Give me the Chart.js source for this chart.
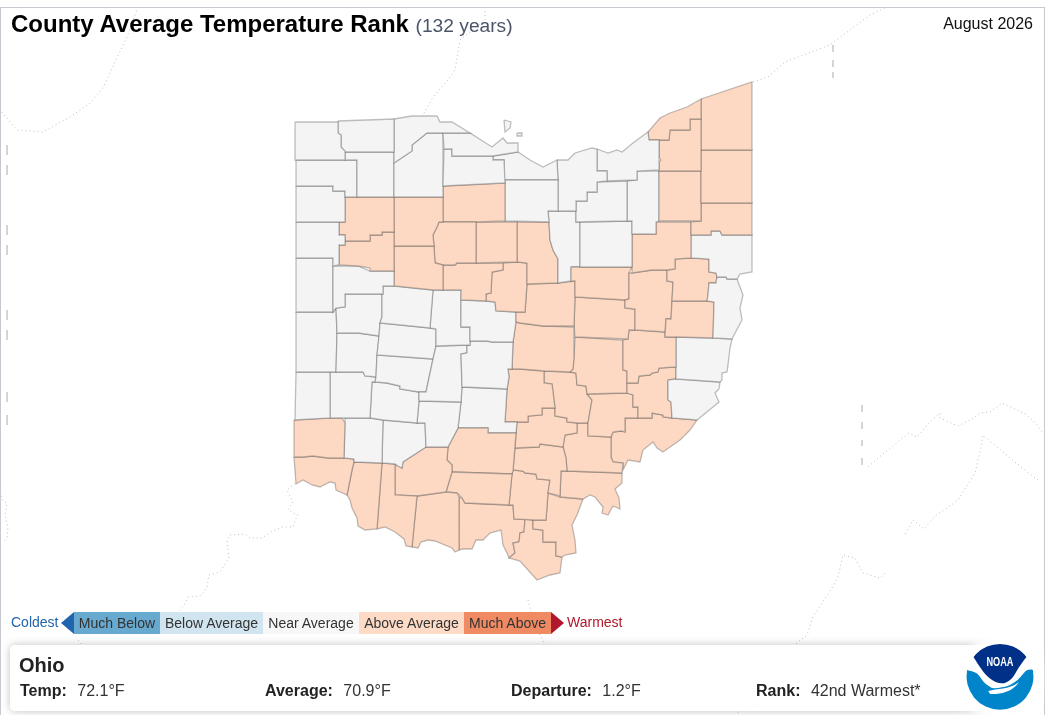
<!DOCTYPE html>
<html><head><meta charset="utf-8">
<script src="https://cdn.jsdelivr.net/npm/chart.js@4/dist/chart.umd.min.js"></script>
<style>
html,body{margin:0;padding:0;background:#fff;font-family:"Liberation Sans",Arial,sans-serif;color:#222}
#wrap{position:relative;width:1045px;height:715px;overflow:hidden}
#frame{position:absolute;left:0;top:7px;width:1043px;height:720px;border:1px solid #c8c8d0;box-sizing:content-box}
canvas{position:absolute;left:0;top:0}
.t{position:absolute;white-space:nowrap}
#title{left:11px;top:10px;font-size:24px;font-weight:bold;color:#000;line-height:28px}
#title span{font-weight:normal;font-size:19.2px;color:#4a5568}
#date{right:12px;top:15px;font-size:16px;color:#111}
.lg{position:absolute;top:612px;height:22px;line-height:22px;font-size:14px;text-align:center;color:#333}
#card{position:absolute;left:10px;top:645px;width:1008px;height:66px;background:rgba(255,255,255,.9);border-radius:5px;box-shadow:0 0 9px rgba(0,0,0,.25)}
.st{position:absolute;top:682px;font-size:16px;line-height:18px;color:#333;white-space:nowrap}
.st b{margin-right:6px;color:#222}
#logo{position:absolute;left:966px;top:644px;border-radius:50%;box-shadow:0 0 8px 9px #fff;background:#fff}
</style></head><body><div id="wrap">
<canvas id="c" width="1045" height="715"></canvas>
<div id="frame"></div>
<div class="t" id="title">County Average Temperature Rank <span>(132 years)</span></div>
<div class="t" id="date">August 2026</div>
<div class="t" style="left:11px;top:614px;font-size:14px;color:#2166ac">Coldest</div>
<div style="position:absolute;left:61px;top:612px;width:0;height:0;border-top:11px solid transparent;border-bottom:11px solid transparent;border-right:13px solid #2166ac"></div>
<div class="lg" style="left:74px;width:86px;background:#67a9cf">Much Below</div>
<div class="lg" style="left:160px;width:103px;background:#d1e5f0">Below Average</div>
<div class="lg" style="left:263px;width:96px;background:#f7f7f7">Near Average</div>
<div class="lg" style="left:359px;width:105px;background:#fddbc7">Above Average</div>
<div class="lg" style="left:464px;width:87px;background:#ef8a62">Much Above</div>
<div style="position:absolute;left:551px;top:612px;width:0;height:0;border-top:11px solid transparent;border-bottom:11px solid transparent;border-left:13px solid #b2182b"></div>
<div class="t" style="left:567px;top:614px;font-size:14px;color:#b2182b">Warmest</div>
<div id="card"></div>
<div class="t" style="left:19px;top:654px;font-size:20px;font-weight:bold;color:#222">Ohio</div>
<div class="st" style="left:20px"><b>Temp:</b> 72.1°F</div>
<div class="st" style="left:265px"><b>Average:</b> 70.9°F</div>
<div class="st" style="left:511px"><b>Departure:</b> 1.2°F</div>
<div class="st" style="left:756px"><b>Rank:</b> 42nd Warmest*</div>
<svg id="logo" width="68" height="68" viewBox="0 0 68 68">
<circle cx="34" cy="33.8" r="33.5" fill="#fff"/>
<path d="M7.3 12.7 A33.5 33.5 0 0 1 60.7 12.7 C58 16 55 20 52.3 24.3 C49 30 47 34 44 36 C41 38.5 38 39.5 35.7 39.3 C32 39 30 38 27.3 36.7 C23 34 20 31 17.3 27.7 C13 22 10 17 7.3 12.7Z" fill="#003087"/>
<path d="M1.1 26 C4 27 8 27.5 10.7 29.3 C14 32 16 36.5 19 39.3 C22 42 25 43.8 27.3 44.3 C30 44.5 33 44 35.7 43.3 C39 43 41.5 42 44 41 C47 39.5 50 37.5 52.3 35.3 C55 32.5 57 30 59 27.7 C61 26 64 25 66.9 26 A33.5 33.5 0 1 1 1.1 26Z" fill="#0085ca"/>
<path d="M22.3 47 C31 44.5 44 45.5 53 38 C47 47 36 50.5 24 50 Z" fill="#fff"/>
<text x="34" y="22" text-anchor="middle" font-family="Liberation Sans" font-weight="bold" font-size="12" fill="#fff" textLength="27" lengthAdjust="spacingAndGlyphs">NOAA</text>
</svg>
</div>
<script>
const countyNames=["Williams","Fulton","Lucas","Ottawa","Sandusky","Wood","Henry","Defiance","Paulding","Van Wert","Putnam","Allen","Auglaize","Hancock","Hardin","Wyandot","Seneca","Crawford","Huron","Erie","Lorain","Cuyahoga","Lake","Geauga","Ashtabula","Trumbull","Portage","Mahoning","Medina","Summit","Wayne","Stark","Columbiana","Jefferson","Carroll","Harrison","Tuscarawas","Holmes","Ashland","Richland","Marion","Morrow","Knox","Delaware","Logan","Union","Franklin","Madison","Champaign","Clark","Shelby","Miami","Mercer","Darke","Preble","Montgomery","Greene","Fayette","Butler","Warren","Clinton","Hamilton","Clermont","Brown","Highland","Adams","Pike","Ross","Pickaway","Licking","Coshocton","Guernsey","Belmont","Monroe","Noble","Muskingum","Morgan","Fairfield","Perry","Hocking","Vinton","Jackson","Athens","Washington","Meigs","Gallia","Lawrence","Scioto","Kelleys Island","Bass Islands"];
const countyRanks=["Near","Near","Near","Near","Near","Near","Near","Near","Near","Near","Above","Above","Near","Above","Above","Above","Above","Above","Near","Near","Near","Near","Above","Above","Above","Above","Above","Above","Near","Near","Near","Above","Near","Near","Above","Above","Above","Above","Near","Above","Above","Above","Above","Near","Near","Near","Near","Near","Near","Near","Near","Near","Near","Near","Near","Near","Near","Near","Above","Near","Near","Above","Above","Above","Above","Above","Above","Above","Near","Above","Above","Above","Near","Near","Above","Above","Above","Above","Above","Above","Above","Above","Above","Above","Above","Above","Above","Above","Near","Near"];
const countyShapes=[
[295,122,338,122,338,133,341,135,341,147,345,151,345,160,295,160],
[338,121,394,119,394,152,345,152,341,147,341,135,338,133],
[394,119,412,116,437,116,440,122,452,122,470,133,427,133,412,145,412,151,403,157,394,163],
[443,133,470,133,492,147,503,138,507,143,518,143,518,152,493,156,452,156,452,149,444,149],
[444,149,452,149,452,156,493,156,493,160,504,160,505,183,443,186],
[394,163,403,157,412,151,412,145,427,133,443,133,443,197,394,197],
[345,152,394,152,394,197,357,197,357,160,345,160],
[296,160,357,160,357,197,345,197,345,191,333,191,333,186,296,186],
[296,186,333,186,333,191,345,191,345,222,296,222],
[296,222,339,222,339,235,345,235,345,245,339,245,339,265,333,266,333,258,296,258],
[345,197,394,197,394,232,382,232,382,235,370,235,370,241,345,241,345,235,339,235,339,222,345,222],
[345,241,370,241,370,235,382,235,382,232,394,232,394,271,370,271,370,268,358,266,339,265,339,245,345,245],
[333,266,358,266,370,271,394,271,394,286,383,286,383,294,345,294,345,307,336,308,333,312],
[394,197,443,197,443,222,439,222,437,227,433,235,434,246,394,246],
[394,246,434,246,435,263,443,265,443,290,433,290,394,286],
[439,222,476,222,476,263,457,263,455,265,443,265,435,263,434,246,433,235,437,227],
[443,186,505,183,505,221,476,222,443,222],
[476,222,517,222,517,262,476,263],
[505,180,558,180,558,211,548,211,549,222,505,221],
[504,180,504,160,493,160,493,156,518,152,530,160,543,167,557,160,558,180],
[557,160,568,160,575,153,592,148,597,149,597,171,607,171,607,181,597,182,597,192,587,192,587,201,576,201,576,211,558,211,558,180],
[597,149,608,153,617,150,622,152,633,143,648,132,649,140,659,140,659,170,637,171,637,180,607,181,607,171,597,171],
[649,140,648,132,660,118,670,113,687,107,701,99,701,119,690,119,690,130,670,130,669,140],
[659,140,669,140,670,130,690,130,690,119,701,119,701,171,659,171,659,162,661,160,659,157],
[701,99,752,82,752,150,701,150],
[701,150,752,150,752,203,701,203],
[659,171,701,171,701,221,659,221],
[701,203,752,203,752,235,722,235,720,231,711,231,711,235,691,235,691,222,701,221],
[576,211,576,201,587,201,587,192,597,192,597,182,627,181,627,221,576,222],
[627,181,637,180,637,171,659,171,659,221,656,222,656,234,632,234,632,221,627,221],
[580,222,632,221,632,267,580,267],
[632,234,656,234,656,222,691,222,691,258,675,259,675,269,667,270,652,270,632,273],
[691,235,711,235,711,231,720,231,722,235,752,235,752,272,740,274,737,279,727,279,726,277,717,277,716,273,709,272,709,259,691,258],
[717,277,726,277,727,279,737,279,743,295,740,308,742,320,734,335,732,339,713,338,714,302,707,301,708,295,709,283,716,283],
[675,259,691,258,709,259,709,272,716,273,717,277,716,283,709,283,708,295,707,301,672,301,673,282,667,281,667,270,675,269],
[672,301,707,301,714,302,713,338,676,337,665,337,666,319,671,319],
[632,273,652,270,667,270,667,281,673,282,672,301,671,319,666,319,665,332,635,330,635,309,625,308,625,300,629,299,629,273],
[571,267,632,267,629,273,629,299,625,300,575,297,575,281,571,281],
[549,222,548,211,576,211,576,222,580,222,580,267,571,267,571,281,558,283,558,259,553,250,550,240],
[517,222,549,222,550,240,553,250,558,259,558,283,527,284,527,263,517,262],
[443,265,455,265,457,263,503,263,503,270,492,272,491,293,486,294,486,301,461,300,461,290,443,290],
[503,263,517,262,527,263,527,284,525,312,516,312,496,311,495,302,486,301,486,294,491,293,492,272,503,270],
[527,284,558,283,575,281,575,297,574,326,543,326,520,323,516,322,516,312,525,312],
[461,300,486,301,495,302,496,311,516,312,516,322,513,342,492,342,487,341,470,341,470,327,461,327],
[383,286,394,286,433,290,430,328,380,323,382,317,382,294,383,294],
[433,290,461,290,461,327,470,327,470,345,436,346,436,329,430,328],
[470,341,487,341,492,342,513,342,512,369,508,369,509,377,507,389,487,388,462,387,461,354,467,353,467,346,470,345],
[436,346,470,345,467,346,467,353,461,354,462,387,461,402,419,401,419,392,426,392,433,359],
[380,323,430,328,436,329,436,346,433,359,377,355,379,336],
[377,355,433,359,426,392,419,392,400,389,400,386,387,383,375,382,376,377],
[345,294,382,294,382,317,380,323,379,336,358,333,337,333,336,308,345,307],
[337,333,358,333,379,336,377,355,376,377,365,376,363,372,336,372],
[296,258,333,258,333,312,296,312],
[296,312,333,312,336,308,337,333,336,372,296,372],
[296,372,330,372,330,418,295,420],
[330,372,363,372,365,376,376,377,375,382,372,382,370,418,345,418,330,418],
[372,382,375,382,387,383,400,386,400,389,419,392,419,401,417,423,383,420,370,418],
[419,401,461,402,458,428,448,447,426,447,425,423,417,423],
[294,420,330,418,342,418,345,423,344,458,328,458,313,456,303,457,294,457],
[345,418,370,418,383,420,382,463,354,462,354,459,344,458,345,423],
[383,420,417,423,425,423,426,447,403,462,402,468,398,466,395,464,382,463],
[294,457,303,457,313,456,328,458,344,458,354,459,354,462,352,470,347,495,336,490,335,483,330,482,320,487,312,485,303,480,296,484],
[354,462,382,463,377,529,365,530,358,526,357,518,352,508,350,500,347,495,352,470],
[382,463,395,464,395,495,417,496,412,547,406,546,404,539,395,532,385,527,377,529],
[395,464,398,466,402,468,403,462,426,447,448,447,447,460,452,465,452,472,446,492,417,496,395,495],
[417,496,446,492,457,493,459,497,459,550,455,552,452,548,435,541,428,540,421,542,418,548,412,547],
[452,472,512,474,509,505,465,503,462,498,457,493,446,492],
[458,428,488,428,488,433,516,433,513,471,512,474,452,472,452,465,447,460,448,447],
[462,387,507,389,505,422,517,422,516,433,488,433,488,428,458,428,461,402],
[516,322,520,323,543,326,574,327,574,357,573,369,570,372,545,371,520,369,512,369,513,342],
[575,297,625,300,625,308,635,309,635,330,629,330,628,339,575,337,574,326],
[635,330,665,332,665,337,676,337,676,367,659,368,658,372,652,373,650,375,639,376,638,383,627,383,627,371,623,370,623,340,628,339,629,330],
[676,337,713,338,732,339,730,348,728,365,727,372,722,373,722,380,720,382,676,379],
[668,380,676,379,720,382,719,389,715,393,719,402,713,407,697,420,672,418,671,402,668,400],
[627,383,638,383,639,376,650,375,652,373,658,372,659,368,676,367,676,379,668,380,668,400,671,402,672,418,663,417,663,415,652,413,652,418,638,418,638,407,633,407,633,395,627,393],
[575,337,623,340,623,370,627,371,627,393,587,394,586,386,577,385,576,373,570,372,573,369,574,357],
[587,394,627,393,633,395,633,407,638,407,638,418,625,418,625,432,621,431,613,432,611,437,588,436,588,423,592,400],
[508,369,512,369,520,369,544,371,544,383,552,384,555,408,542,408,542,415,528,416,528,422,517,422,505,422,507,389,509,377],
[544,371,570,372,576,373,577,385,586,386,587,394,592,400,588,423,577,423,567,422,567,418,555,416,555,408,552,384,544,383],
[517,422,528,422,528,416,542,415,542,408,555,408,555,416,567,418,567,422,577,423,577,433,565,435,563,447,540,444,539,447,515,448],
[515,448,539,447,540,444,563,447,566,458,567,471,561,471,560,496,548,493,550,480,537,479,536,474,525,473,523,471,513,470],
[512,474,513,470,523,471,525,473,536,474,537,479,550,480,548,493,546,520,533,520,514,519,513,505,509,505],
[565,435,577,433,577,423,588,423,588,436,611,437,611,457,613,462,623,463,622,473,567,471,566,458,563,447],
[611,437,613,432,621,431,625,432,625,418,638,418,652,418,652,413,663,415,663,417,672,418,697,420,690,430,680,440,663,452,657,448,653,442,643,450,640,462,628,460,623,470,623,463,613,462,611,457],
[561,471,567,471,622,473,622,483,615,489,619,498,620,509,613,506,608,515,602,513,603,507,595,497,590,495,583,499,560,497],
[548,493,560,497,583,499,577,515,572,525,575,540,576,553,565,555,562,557,556,556,556,542,543,542,543,530,533,529,533,520,546,520],
[525,519,533,520,533,529,543,530,543,542,556,542,556,556,562,557,560,573,550,575,537,580,528,570,520,561,509,558,515,553,513,543,519,542,520,533,524,532],
[459,497,462,498,465,503,509,505,513,505,514,519,525,519,524,532,520,533,519,542,513,543,515,553,509,558,507,553,503,545,501,530,490,533,483,540,476,540,472,549,463,549,459,550],
[504,120,511,122,510,128,505,132],
[517,133,522,133,522,136,517,136]
];
const neighborLines=[
[138,7,127,37,115,62,103,88,90,103,70,117,43,132,17,130,0,110],
[485,7,485,20,460,40,455,70,448,80,433,97,423,115],
[753,82,768,77,785,62,830,45,870,15,885,8],
[868,467,878,458,892,447,900,440,909,433,917,437,930,422,940,413,940,418,958,426,972,419,980,413,990,412,1002,403,1013,408,1027,415,1035,423,1043,433],
[1038,480,1027,472,1003,452,983,435,982,443,975,473,968,484,958,500,947,508,935,516,924,529,913,520,904,536],
[885,573,880,578,863,573,855,558,843,555,838,577,832,588,820,606,813,617,807,635,798,642,788,652,780,668,773,700,753,705,737,713],
[0,492,2,500,7,503,5,515,8,527,7,538,3,543],
[295,483,287,490,293,502,288,510,298,515,295,520,293,527,283,527,272,531,262,538,250,538,245,534,230,535,227,540,229,558,220,572,209,575,207,587,204,592,200,596,188,597,185,604,178,612],
[78,640,90,655,100,668],
[528,600,535,625,543,641,551,670,565,695,578,712]
];
const neighborDashes=[
[833,45,833,52],[833,60,833,67],[833,72,833,78],
[862,405,862,412],[862,422,862,429],[862,440,862,446],[862,458,862,465],
[7,145,7,155],[7,165,7,175],[7,225,7,235],[7,245,7,255],[7,310,7,320],[7,330,7,340],[7,392,7,402],[7,415,7,425]
];
const rankColors={Near:"#f4f4f4",Above:"#fdd9c4"};
const pairs=a=>{const o=[];for(let i=0;i<a.length;i+=2)o.push({x:a[i],y:a[i+1]});return o;};
const datasets=[];
neighborLines.forEach((l,i)=>datasets.push({label:"neighbor "+(i+1),data:pairs(l),showLine:true,pointRadius:0,borderColor:"#bdbdbd",borderWidth:1,borderDash:[1,3],fill:false,order:2}));
neighborDashes.forEach((l,i)=>datasets.push({label:"neighbor dash "+(i+1),data:pairs(l),showLine:true,pointRadius:0,borderColor:"#cfcfcf",borderWidth:1,fill:false,order:2}));
countyShapes.forEach((s,i)=>{const p=pairs(s);p.push(p[0]);datasets.push({label:countyNames[i],data:p,showLine:true,pointRadius:0,tension:0,backgroundColor:rankColors[countyRanks[i]],borderColor:"rgba(60,60,60,.32)",borderWidth:1.3,fill:"shape",order:1});});
new Chart(document.getElementById("c"),{type:"scatter",data:{datasets},options:{responsive:false,animation:false,devicePixelRatio:1,layout:{padding:0},plugins:{legend:{display:false},tooltip:{enabled:false},title:{display:false}},
scales:{x:{type:"linear",display:false,min:0,max:1045},y:{type:"linear",display:false,min:0,max:715,reverse:true}}}});
</script></body></html>
